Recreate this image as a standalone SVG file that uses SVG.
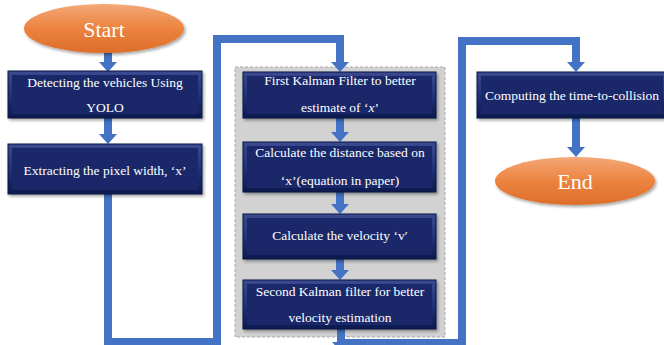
<svg xmlns="http://www.w3.org/2000/svg" width="664" height="345" viewBox="0 0 664 345">
<style>
.box-o{fill:url(#bevel);stroke:#0a1440;stroke-width:1}
.box-i{fill:#1a286a}
.btxt{font-family:"Liberation Serif","Times New Roman",serif;font-size:13.5px;fill:#ffffff;text-anchor:middle}
.etxt{font-family:"Liberation Serif","Times New Roman",serif;font-size:22px;fill:#ffffff;text-anchor:middle}
.oval{fill:url(#orange)}
.conn{fill:none;stroke:#4472c4;stroke-width:8;stroke-linejoin:miter}
</style>
<defs>
<linearGradient id="bevel" x1="0" y1="0" x2="0" y2="1">
<stop offset="0" stop-color="#3a4a90"/>
<stop offset="0.5" stop-color="#22327a"/>
<stop offset="1" stop-color="#0e1a4e"/>
</linearGradient>
<linearGradient id="orange" x1="0" y1="0" x2="0" y2="1">
<stop offset="0" stop-color="#f3a877"/>
<stop offset="0.5" stop-color="#ec833f"/>
<stop offset="1" stop-color="#dd6e2a"/>
</linearGradient>
<filter id="sh" x="-10%" y="-10%" width="130%" height="140%">
<feDropShadow dx="1.5" dy="2" stdDeviation="1.5" flood-color="#000" flood-opacity="0.35"/>
</filter>
<marker id="head" markerUnits="userSpaceOnUse" viewBox="0 0 10 18" refX="0" refY="9" markerWidth="10" markerHeight="18" orient="auto">
<path d="M0,0 L10,9 L0,18 z" fill="#4472c4"/>
</marker>
</defs>

<rect id="group-container" x="235" y="67" width="210" height="270" fill="#d2d2d2" stroke="#a9a9a9" stroke-width="1" stroke-dasharray="3,2"/>

<g id="connectors">
<path class="conn" d="M108,52 V62" marker-end="url(#head)"/>
<path class="conn" d="M108,118 V134" marker-end="url(#head)"/>
<path class="conn" d="M108,194 V342 H217 V39 H340 V62" marker-end="url(#head)"/>
<path class="conn" d="M340,118 V132" marker-end="url(#head)"/>
<path class="conn" d="M340,192 V204" marker-end="url(#head)"/>
<path class="conn" d="M340,259 V270" marker-end="url(#head)"/>
<path class="conn" d="M341,329 V342" marker-end="url(#head)"/>
<path class="conn" d="M341,343 H462 V41 H576 V62"  marker-end="url(#head)"/>
<path class="conn" d="M576,118 V147" marker-end="url(#head)"/>
</g>

<g id="start">
<ellipse class="oval" cx="104" cy="28.5" rx="80" ry="24.5" filter="url(#sh)"/>
<text class="etxt" x="104" y="37">Start</text>
</g>

<g id="detect">
<rect class="box-o" x="8" y="71" width="194" height="47" filter="url(#sh)"/>
<rect class="box-i" x="12" y="75" width="186" height="39"/>
<text class="btxt" x="105" y="87">Detecting the vehicles Using</text>
<text class="btxt" x="105" y="112">YOLO</text>
</g>

<g id="extract">
<rect class="box-o" x="8" y="144" width="194" height="50" filter="url(#sh)"/>
<rect class="box-i" x="12" y="148" width="186" height="42"/>
<text class="btxt" x="105" y="175">Extracting the pixel width, ‘x’</text>
</g>

<g id="kalman1">
<rect class="box-o" x="243" y="72" width="193" height="46" filter="url(#sh)"/>
<rect class="box-i" x="247" y="76" width="185" height="38"/>
<text class="btxt" x="340" y="85">First Kalman Filter to better</text>
<text class="btxt" x="340" y="112">estimate of ‘<tspan font-style="italic">x</tspan>’</text>
</g>

<g id="distance">
<rect class="box-o" x="243" y="142" width="193" height="50" filter="url(#sh)"/>
<rect class="box-i" x="247" y="146" width="185" height="42"/>
<text class="btxt" x="340" y="157">Calculate the distance based on</text>
<text class="btxt" x="340" y="185">‘x’(equation in paper)</text>
</g>

<g id="velocity">
<rect class="box-o" x="243" y="214" width="193" height="45" filter="url(#sh)"/>
<rect class="box-i" x="247" y="218" width="185" height="37"/>
<text class="btxt" x="340" y="240">Calculate the velocity ‘v′</text>
</g>

<g id="kalman2">
<rect class="box-o" x="243" y="280" width="193" height="49" filter="url(#sh)"/>
<rect class="box-i" x="247" y="284" width="185" height="41"/>
<text class="btxt" x="340" y="296">Second Kalman filter for better</text>
<text class="btxt" x="340" y="322">velocity estimation</text>
</g>

<g id="ttc">
<rect class="box-o" x="477" y="72" width="190" height="46" filter="url(#sh)"/>
<rect class="box-i" x="481" y="76" width="182" height="38"/>
<text class="btxt" x="572" y="100">Computing the time-to-collision</text>
</g>

<g id="end">
<ellipse class="oval" cx="575" cy="181" rx="80" ry="24" filter="url(#sh)"/>
<text class="etxt" x="575" y="189">End</text>
</g>
</svg>
